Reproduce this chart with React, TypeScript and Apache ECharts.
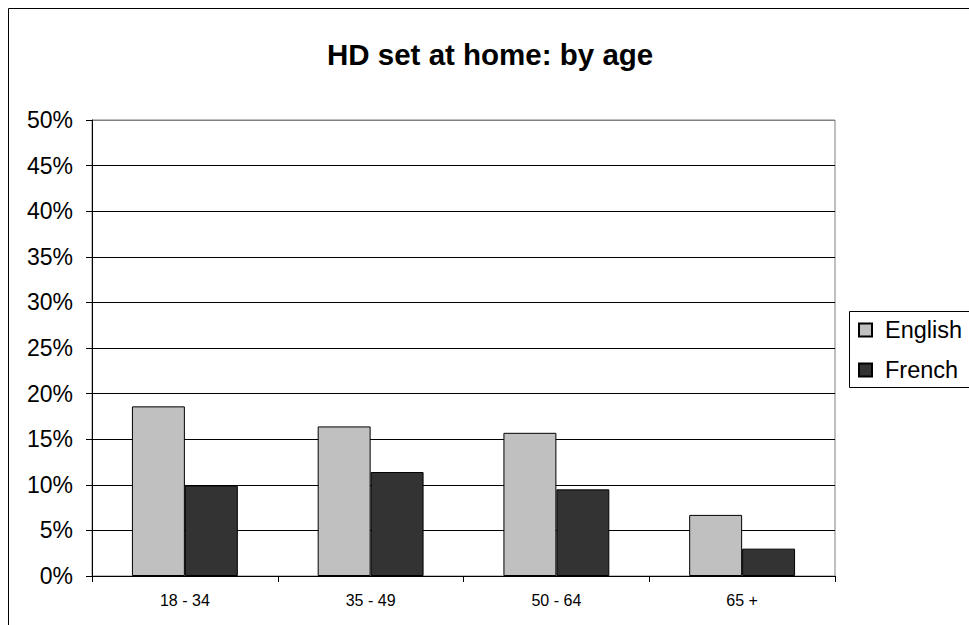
import React, { useEffect, useRef } from "react";
import * as echarts from "echarts";

const categories = ["18 - 34", "35 - 49", "50 - 64", "65 +"];
const englishValues = [18.6, 16.4, 15.7, 6.7];
const frenchValues = [9.9, 11.4, 9.5, 3.0];
const seriesNames = ["English", "French"];

export default function App() {
  const ref = useRef<HTMLDivElement>(null);

  useEffect(() => {
    if (!ref.current) return;
    const chart = echarts.init(ref.current, undefined, { renderer: "svg" });
    const font = "'Liberation Sans', Arial, sans-serif";
    const splitColors = ["#000", "#000", "#000", "#000", "#000", "#000", "#000", "#000", "#000", "#000", "#808080"];
    chart.setOption({
      animation: false,
      backgroundColor: "#fff",
      title: {
        text: "HD set at home: by age",
        left: 327,
        top: 39,
        padding: 0,
        textStyle: { fontFamily: font, fontSize: 29.5, fontWeight: "bold", color: "#000" },
      },
      legend: {
        orient: "vertical",
        left: 849,
        top: 311,
        padding: [6, 0, 4, 9],
        itemWidth: 13,
        itemHeight: 13,
        itemGap: 14,
        borderWidth: 0,
        icon: "rect",
        textStyle: { fontFamily: font, fontSize: 23.5, color: "#000", lineHeight: 26, padding: [0, 0, 0, 8] },
        data: seriesNames,
      },
      grid: {
        left: 92,
        right: 134,
        top: 120,
        bottom: 49,
        show: true,
        borderColor: "#808080",
        borderWidth: 1,
        backgroundColor: "transparent",
      },
      xAxis: {
        type: "category",
        data: categories,
        axisLine: { lineStyle: { color: "#000", width: 1 } },
        axisTick: { show: true, length: 6, inside: false, lineStyle: { color: "#000" } },
        axisLabel: { fontFamily: font, fontSize: 16, color: "#000", margin: 16 },
      },
      yAxis: {
        type: "value",
        min: 0,
        max: 50,
        interval: 5,
        axisLine: { show: true, lineStyle: { color: "#000", width: 1 } },
        axisTick: { show: true, length: 6, lineStyle: { color: "#000" } },
        axisLabel: { fontFamily: font, fontSize: 23, color: "#000", margin: 19, formatter: "{value}%" },
        splitLine: { show: true, lineStyle: { color: splitColors, width: 1 } },
      },
      series: [
        {
          name: seriesNames[0],
          type: "bar",
          data: englishValues,
          barGap: "0%",
          barCategoryGap: "43%",
          itemStyle: { color: "#C0C0C0", borderColor: "#000", borderWidth: 1 },
        },
        {
          name: seriesNames[1],
          type: "bar",
          data: frenchValues,
          barGap: "0%",
          barCategoryGap: "43%",
          itemStyle: { color: "#333333", borderColor: "#000", borderWidth: 1 },
        },
      ],
      graphic: [
        {
          type: "polyline",
          shape: { points: [[8.5, 1000], [8.5, 8.5], [1200, 8.5]] },
          style: { fill: "none", stroke: "#000", lineWidth: 1 },
          silent: true,
          z: 100,
        },
        {
          type: "polyline",
          shape: { points: [[1200, 311.5], [849.5, 311.5], [849.5, 387.5], [1200, 387.5]] },
          style: { fill: "none", stroke: "#000", lineWidth: 1 },
          silent: true,
          z: 100,
        },
      ],
    });
    return () => chart.dispose();
  }, []);

  return (
    <div
      ref={ref}
      style={{ position: "fixed", left: 0, top: 0, width: 969, height: 625 }}
    />
  );
}
